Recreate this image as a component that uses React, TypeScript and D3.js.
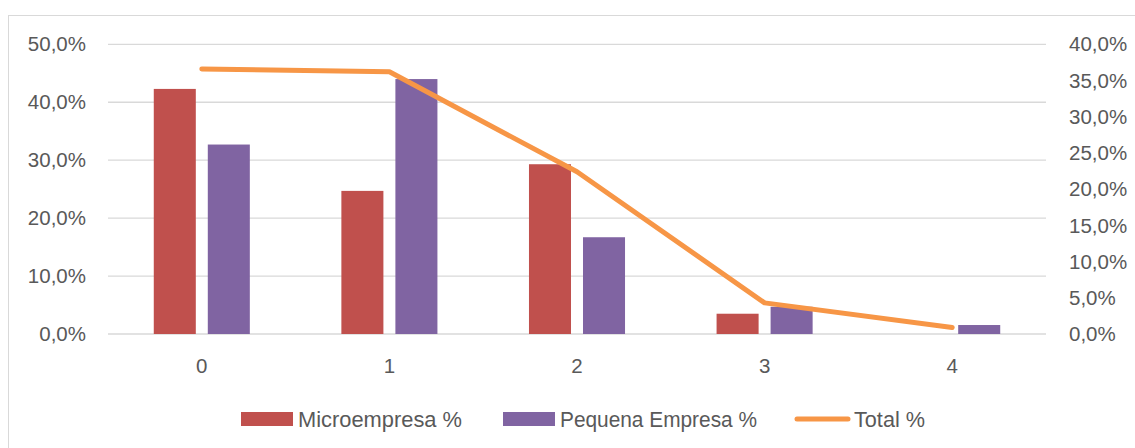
import React, { useEffect, useRef } from "react";
import * as d3 from "d3";

const categories = ["0", "1", "2", "3", "4"];
const microempresa = [42.3, 24.7, 29.3, 3.5, 0];
const pequenaEmpresa = [32.7, 44.0, 16.7, 4.7, 1.55];
const total = [36.6, 36.2, 22.4, 4.3, 0.9];
const leftTicks = [0, 10, 20, 30, 40, 50];
const rightTicks = [0, 5, 10, 15, 20, 25, 30, 35, 40];
const seriesNames = ["Microempresa %", "Pequena Empresa %", "Total %"];
const colors = ["#C0504D", "#8064A2", "#F79646"];

const W = 1135;
const H = 448;
const margin = { left: 108, right: 1046, top: 44.3, bottom: 334 };
const fmt = (v: number) => v.toFixed(1).replace(".", ",") + "%";

export default function App() {
  const ref = useRef<SVGSVGElement>(null);
  useEffect(() => {
    const svg = d3.select(ref.current);
    svg.selectAll("*").remove();
    const x = d3.scaleBand().domain(categories).range([margin.left, margin.right]).paddingInner(0.488).paddingOuter(0.244);
    const xc = d3.scaleBand().domain(categories).range([margin.left, margin.right]);
    const inner = d3.scaleBand().domain(["m", "p"]).range([0, x.bandwidth()]).paddingInner(0.222);
    const yL = d3.scaleLinear().domain([0, 50]).range([margin.bottom, margin.top]);
    const yR = d3.scaleLinear().domain([0, 40]).range([margin.bottom, margin.top]);
    const font = "'Liberation Sans', Arial, sans-serif";

    svg.append("rect").attr("x", 8.5).attr("y", 15.5).attr("width", W).attr("height", H).attr("fill", "white").attr("stroke", "#D9D9D9").attr("stroke-width", 1);

    // gridlines
    svg.append("g").selectAll("line").data(leftTicks).join("line")
      .attr("x1", margin.left).attr("x2", margin.right)
      .attr("y1", (d) => yL(d)).attr("y2", (d) => yL(d))
      .attr("stroke", "#D9D9D9").attr("stroke-width", 1.3);

    // left ticks
    svg.append("g").selectAll("text").data(leftTicks).join("text")
      .attr("x", 86).attr("y", (d) => yL(d)).attr("dy", "0.35em")
      .attr("text-anchor", "end").attr("font-family", font).attr("font-size", 20.5).attr("fill", "#595959")
      .text((d) => fmt(d));
    // right ticks
    svg.append("g").selectAll("text").data(rightTicks).join("text")
      .attr("x", 1069).attr("y", (d) => yR(d)).attr("dy", "0.35em")
      .attr("text-anchor", "start").attr("font-family", font).attr("font-size", 20.5).attr("fill", "#595959")
      .text((d) => fmt(d));
    // category labels
    svg.append("g").selectAll("text").data(categories).join("text")
      .attr("x", (d) => (xc(d) as number) + xc.bandwidth() / 2).attr("y", 366).attr("dy", "0.35em")
      .attr("text-anchor", "middle").attr("font-family", font).attr("font-size", 20.5).attr("fill", "#595959")
      .text((d) => d);

    // bars
    const gb = svg.append("g");
    gb.selectAll("rect.m").data(categories).join("rect").attr("class", "m")
      .attr("x", (d) => (x(d) as number) + (inner("m") as number)).attr("width", inner.bandwidth())
      .attr("y", (d, i) => yL(microempresa[i])).attr("height", (d, i) => yL(0) - yL(microempresa[i]))
      .attr("fill", colors[0]);
    gb.selectAll("rect.p").data(categories).join("rect").attr("class", "p")
      .attr("x", (d) => (x(d) as number) + (inner("p") as number)).attr("width", inner.bandwidth())
      .attr("y", (d, i) => yL(pequenaEmpresa[i])).attr("height", (d, i) => yL(0) - yL(pequenaEmpresa[i]))
      .attr("fill", colors[1]);

    // line
    const line = d3.line<number>()
      .x((d, i) => (xc(categories[i]) as number) + xc.bandwidth() / 2)
      .y((d) => yR(d));
    svg.append("path").datum(total).attr("d", line).attr("fill", "none")
      .attr("stroke", colors[2]).attr("stroke-width", 5).attr("stroke-linecap", "round").attr("stroke-linejoin", "round");

    // legend
    const lg = svg.append("g");
    const items = [
      { x: 241, tx: 298, w: 164, type: "rect" },
      { x: 503, tx: 560, w: 197, type: "rect" },
      { x: 794, tx: 854, w: 71, type: "line" },
    ];
    const ly = 419;
    items.forEach((it, i) => {
      if (it.type === "rect") {
        lg.append("rect").attr("x", it.x).attr("y", ly - 7).attr("width", 52).attr("height", 14).attr("fill", colors[i]);
      } else {
        lg.append("line").attr("x1", it.x + 3).attr("x2", it.x + 54).attr("y1", ly).attr("y2", ly)
          .attr("stroke", colors[i]).attr("stroke-width", 5).attr("stroke-linecap", "round");
      }
      lg.append("text").attr("x", it.tx).attr("y", ly).attr("dy", "0.35em")
        .attr("font-family", font).attr("font-size", 21.5).attr("fill", "#595959")
        .attr("textLength", it.w).attr("lengthAdjust", "spacingAndGlyphs")
        .text(seriesNames[i]);
    });
  }, []);
  return (
    <svg ref={ref} width={W} height={H} style={{ position: "absolute", left: 0, top: 0, display: "block" }} />
  );
}
